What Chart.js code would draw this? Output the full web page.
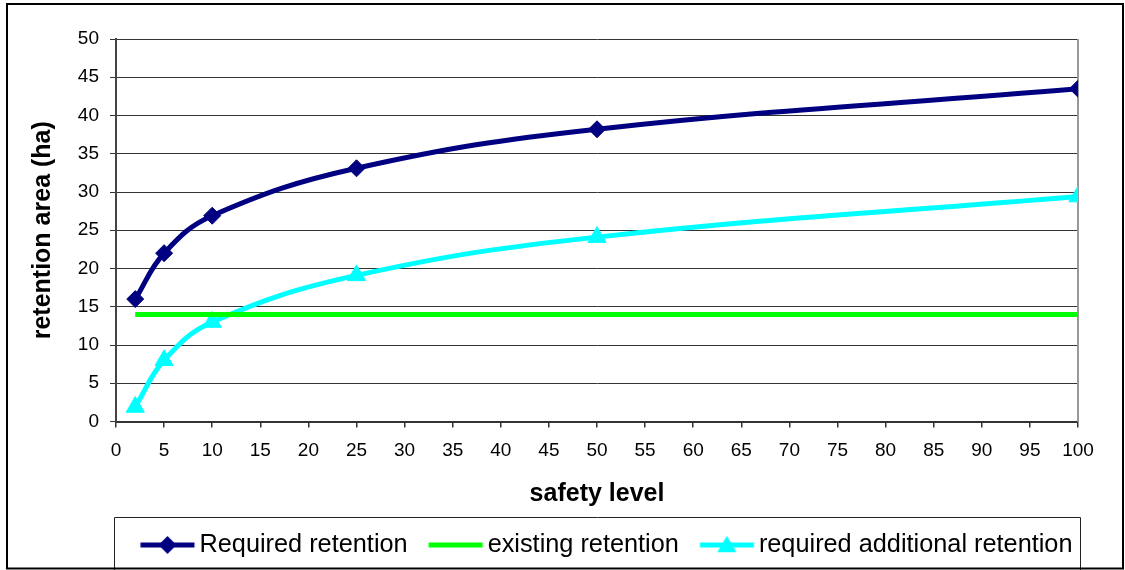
<!DOCTYPE html>
<html>
<head>
<meta charset="utf-8">
<script src="https://cdn.jsdelivr.net/npm/chart.js@4/dist/chart.umd.min.js"></script>
<style>
  html, body { margin: 0; padding: 0; background: #fff; }
  #wrap { width: 1125px; height: 570px; }
</style>
</head>
<body>
<div id="wrap"><canvas id="c" width="1125" height="570"></canvas></div>
<script>
// ---- data ----
const safetyLevels = [2, 5, 10, 25, 50, 100];
const requiredRetention = [16, 22, 26.9, 33.1, 38.2, 43.5];
const existingRetention = [14, 14, 14, 14, 14, 14];
const additionalRetention = [1.9, 8, 13, 19.1, 24.1, 29.4];
const seriesNames = ['Required retention', 'existing retention', 'required additional retention'];
const xTitle = 'safety level';
const yTitle = 'retention area (ha)';

// ---- styles ----
const FONT = "'Liberation Sans', Arial, sans-serif";
const NAVY = '#000080', GREEN = '#00FF00', CYAN = '#00FFFF';
const LEG_FONT = 25.3, LEG_PAD = 2, LEG_K = 19, LEG_LINE = 54;
const LEG_BOX = LEG_K + LEG_LINE + 5 - LEG_FONT / 2;
const IMG_W = 84, IMG_H = 26;

function legendImg(color, marker) {
  const c = document.createElement('canvas');
  c.width = IMG_W; c.height = IMG_H;
  const g = c.getContext('2d');
  const x0 = LEG_K - (LEG_BOX / 2 - IMG_W / 2);
  const cy = IMG_H / 2;
  g.strokeStyle = color; g.lineWidth = 5;
  g.beginPath(); g.moveTo(x0, cy); g.lineTo(x0 + LEG_LINE, cy); g.stroke();
  const mx = x0 + LEG_LINE / 2;
  g.fillStyle = color;
  if (marker === 'diamond') {
    const r = 9;
    g.beginPath(); g.moveTo(mx, cy - r); g.lineTo(mx + r, cy); g.lineTo(mx, cy + r); g.lineTo(mx - r, cy); g.closePath(); g.fill();
  } else if (marker === 'triangle') {
    const r = 11;
    g.beginPath(); g.moveTo(mx, cy - r * 0.85); g.lineTo(mx + r * 0.87, cy + r * 0.65); g.lineTo(mx - r * 0.87, cy + r * 0.65); g.closePath(); g.fill();
  }
  return c;
}
const legendImages = [legendImg(NAVY, 'diamond'), legendImg(GREEN, null), legendImg(CYAN, 'triangle')];

function pts(ys) { return safetyLevels.map((x, i) => ({ x: x, y: ys[i] })); }

const decor = {
  id: 'decor',
  beforeDatasetsDraw(chart) {
    const { ctx, chartArea: a } = chart;
    ctx.save();
    ctx.strokeStyle = '#999';
    ctx.lineWidth = 2;
    ctx.beginPath(); ctx.moveTo(a.right, a.top); ctx.lineTo(a.right, a.bottom); ctx.stroke();
    ctx.restore();
  },
  afterDraw(chart) {
    const { ctx, chartArea: a, legend } = chart;
    ctx.save();
    ctx.strokeStyle = '#222';
    ctx.lineWidth = 1;
    const top = Math.round(legend.top - 13.5) + 0.5;
    ctx.beginPath();
    ctx.moveTo(a.left - 1.5, chart.height);
    ctx.lineTo(a.left - 1.5, top);
    ctx.lineTo(a.right + 2.5, top);
    ctx.lineTo(a.right + 2.5, chart.height);
    ctx.stroke();
    ctx.strokeStyle = '#000';
    ctx.lineWidth = 2;
    ctx.strokeRect(7, 4, 1116, 564.5);
    ctx.restore();
  }
};

Chart.defaults.font.family = FONT;
Chart.defaults.color = '#000';

new Chart(document.getElementById('c'), {
  type: 'line',
  data: {
    datasets: [
      { label: seriesNames[0], data: pts(requiredRetention), borderColor: NAVY, backgroundColor: NAVY,
        borderWidth: 5, pointStyle: 'rectRot', pointRadius: 8.5, pointBorderWidth: 1, pointBorderColor: NAVY, pointBackgroundColor: NAVY, tension: 0.4 },
      { label: seriesNames[1], data: pts(existingRetention), borderColor: GREEN, backgroundColor: GREEN,
        borderWidth: 5, pointRadius: 0, tension: 0 },
      { label: seriesNames[2], data: pts(additionalRetention), borderColor: CYAN, backgroundColor: CYAN,
        borderWidth: 5, pointStyle: 'triangle', pointRadius: 10.5, pointBorderWidth: 1, pointBorderColor: CYAN, pointBackgroundColor: CYAN, tension: 0.4 }
    ]
  },
  options: {
    responsive: false,
    animation: false,
    devicePixelRatio: 1,
    layout: { padding: { left: 7, right: 47, top: 39, bottom: 2.35 } },
    scales: {
      x: {
        type: 'linear', min: 0, max: 100,
        ticks: { stepSize: 5, padding: 12, font: { size: 19 }, color: '#000', maxRotation: 0, autoSkip: false },
        grid: { drawOnChartArea: false, drawTicks: true, tickLength: 6, color: '#333', lineWidth: 1.5 },
        border: { color: '#333', width: 2 },
        title: { display: true, text: xTitle, font: { size: 25, weight: 'bold', lineHeight: 1 }, color: '#000', padding: { top: 0, bottom: 23.25 } },
        afterFit(s) { s.height = 108.85; }
      },
      y: {
        min: 0, max: 50,
        ticks: { stepSize: 5, padding: 11, font: { size: 19 }, color: '#000' },
        grid: { color: '#333', lineWidth: 1, tickLength: 6 },
        border: { color: '#444', width: 2 },
        title: { display: true, text: yTitle, font: { size: 25, weight: 'bold', lineHeight: 1 }, color: '#000', padding: { top: 24.1, bottom: 0 } },
        afterFit(s) { s.width = 109; }
      }
    },
    plugins: {
      legend: {
        position: 'bottom',
        fullSize: false,
        labels: {
          usePointStyle: true,
          pointStyleWidth: LEG_BOX,
          padding: LEG_PAD,
          font: { size: LEG_FONT },
          color: '#000',
          generateLabels(chart) {
            const items = Chart.defaults.plugins.legend.labels.generateLabels(chart);
            items.forEach((it, i) => { it.pointStyle = legendImages[i]; it.lineWidth = 0; });
            return items;
          }
        }
      },
      tooltip: { enabled: false }
    }
  },
  plugins: [decor]
});
</script>
</body>
</html>
